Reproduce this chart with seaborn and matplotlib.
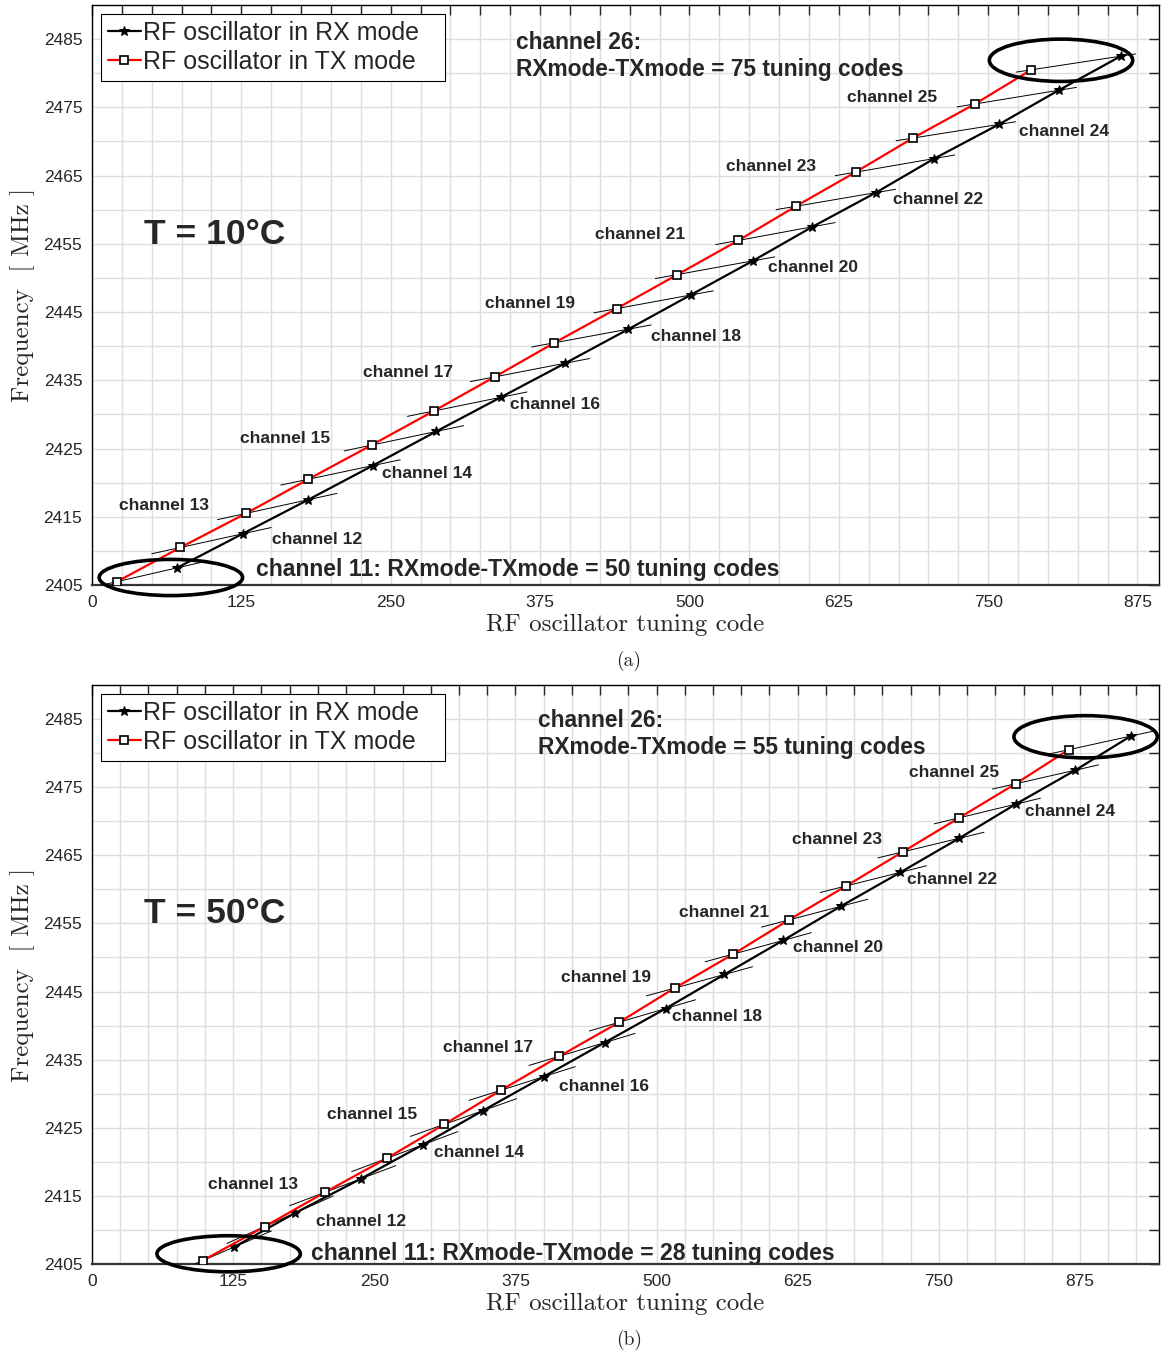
import numpy as np
import pandas as pd
import seaborn as sns
import matplotlib
matplotlib.use("Agg")
import matplotlib.pyplot as plt
from matplotlib.patches import Ellipse
from matplotlib.ticker import FixedLocator, MultipleLocator, NullFormatter

# ---------------- data ----------------
channels = list(range(11, 27))

tx_freq = [2405.5, 2410.5, 2415.5, 2420.5, 2425.5, 2430.5, 2435.5, 2440.5,
           2445.5, 2450.5, 2455.5, 2460.5, 2465.5, 2470.5, 2475.5, 2480.5]
rx_freq = [2407.5, 2412.5, 2417.5, 2422.5, 2427.5, 2432.5, 2437.5, 2442.5,
           2447.5, 2452.5, 2457.5, 2462.5, 2467.5, 2472.5, 2477.5, 2482.5]

tx_code_10C = [21, 74, 129, 181, 234, 286, 337, 387, 439, 490, 541, 589, 639, 687, 739, 786]
rx_code_10C = [71, 126, 181, 235, 288, 342, 396, 449, 501, 553, 603, 656, 705, 759, 809, 861]

tx_code_50C = [98, 153, 206, 261, 312, 362, 414, 467, 516, 568, 617, 668, 718, 768, 818, 865]
rx_code_50C = [126, 180, 238, 293, 346, 400, 454, 508, 560, 612, 663, 716, 768, 818, 871, 920]

x_tick_labels = [0, 125, 250, 375, 500, 625, 750, 875]
y_tick_labels = [2405, 2415, 2425, 2435, 2445, 2455, 2465, 2475, 2485]

# ---------------- style ----------------
sns.set_style("white")
plt.rcParams["font.family"] = ["Liberation Sans", "DejaVu Sans"]
plt.rcParams["axes.linewidth"] = 1.0

SERIF = ["cmr10", "DejaVu Serif"]

fig = plt.figure(figsize=(11.67, 13.51), dpi=100)
W, H = 1167, 1351
AX_LEFT, AX_RIGHT = 92, 1159


def make_axes(top_px, bottom_px):
    return fig.add_axes([AX_LEFT / W, 1 - bottom_px / H,
                         (AX_RIGHT - AX_LEFT) / W, (bottom_px - top_px) / H])


panels = [
    dict(top=5, bottom=585, tx=tx_code_10C, rx=rx_code_10C, xmax=893,
         temp="T = 10°C", tag="(a)", half=50,
         ell_low=(66, 2406.1, 120, 5.3), ell_high=(811, 2481.9, 120, 6.2),
         head=(355, 2484.5), foot=(137, 2407.3),
         labels={12: (151, 2411.7), 13: (23, 2416.7), 14: (243, 2421.3),
                 15: (124, 2426.5), 16: (350, 2431.4), 17: (227, 2436.2),
                 18: (468, 2441.4), 19: (329, 2446.2), 20: (566, 2451.5),
                 21: (421, 2456.3), 22: (670, 2461.5), 23: (531, 2466.3),
                 24: (776, 2471.5), 25: (632, 2476.5)}),
    dict(top=685, bottom=1264, tx=tx_code_50C, rx=rx_code_50C, xmax=945,
         temp="T = 50°C", tag="(b)", half=47,
         ell_low=(121, 2406.5, 127, 5.3), ell_high=(880, 2482.4, 127, 6.2),
         head=(395, 2484.8), foot=(194, 2406.6),
         labels={12: (198, 2411.2), 13: (103, 2416.6), 14: (303, 2421.3),
                 15: (208, 2426.9), 16: (414, 2431.0), 17: (311, 2436.8),
                 18: (514, 2441.4), 19: (415, 2447.1), 20: (621, 2451.5),
                 21: (520, 2456.6), 22: (722, 2461.5), 23: (620, 2467.3),
                 24: (826, 2471.5), 25: (724, 2477.2)}),
]

for p in panels:
    ax = make_axes(p["top"], p["bottom"])
    df = pd.DataFrame({"channel": channels,
                       "tx": p["tx"], "rx": p["rx"],
                       "tx_f": tx_freq, "rx_f": rx_freq})

    # per-channel line through the RX and TX operating points
    for _, r in df.iterrows():
        slope = (r.rx_f - r.tx_f) / (r.rx - r.tx)
        mx, my = (r.rx + r.tx) / 2, (r.rx_f + r.tx_f) / 2
        xs = np.array([mx - p["half"], mx + p["half"]])
        ax.plot(xs, my + slope * (xs - mx), color="black", lw=0.7, zorder=3)

    sns.lineplot(data=df, x="rx", y="rx_f", sort=False, ax=ax, color="black",
                 lw=1.6, marker="*", markersize=7.5, markeredgecolor="black",
                 markerfacecolor="black", label="RF oscillator in RX mode", zorder=4)
    sns.lineplot(data=df, x="tx", y="tx_f", sort=False, ax=ax, color="red",
                 lw=1.6, marker="s", markersize=5.5, markeredgecolor="black",
                 markeredgewidth=1.2, markerfacecolor="white",
                 label="RF oscillator in TX mode", zorder=5)

    ax.set_xlim(0, p["xmax"])
    ax.set_ylim(2405, 2490)
    ax.xaxis.set_major_locator(FixedLocator(x_tick_labels))
    ax.xaxis.set_minor_locator(MultipleLocator(25))
    ax.yaxis.set_major_locator(FixedLocator(y_tick_labels))
    ax.yaxis.set_minor_locator(MultipleLocator(5))
    ax.yaxis.set_minor_formatter(NullFormatter())
    ax.xaxis.set_minor_formatter(NullFormatter())
    ax.grid(True, which="both", color="#dedede", lw=1.0, zorder=0)
    ax.set_axisbelow(True)
    ax.tick_params(which="both", direction="in", top=True, right=True,
                   length=7, width=1.0, labelsize=12.5, pad=7)
    for s in ax.spines.values():
        s.set_color("black")
    ax.spines["bottom"].set_linewidth(1.6)
    ax.spines["bottom"].set_color("#333333")

    ax.set_xlabel("RF oscillator tuning code", fontfamily=SERIF, fontsize=18,
                  labelpad=3)
    ax.set_ylabel("Frequency  [ MHz ]", fontfamily=SERIF, fontsize=18,
                  labelpad=6)

    # legend box spans a fixed width in the upper-left corner
    ax_w = AX_RIGHT - AX_LEFT
    leg = ax.legend(loc="upper left",
                    bbox_to_anchor=(9 / ax_w, 0, (445 - 101) / ax_w, 0.985),
                    mode="expand", borderaxespad=0, fontsize=18, frameon=True,
                    fancybox=False, edgecolor="black", framealpha=1,
                    handlelength=1.3, handletextpad=0.1, borderpad=0.28,
                    labelspacing=0.22)
    leg.get_frame().set_linewidth(0.8)

    ax.text(0.049, 0.605, p["temp"], transform=ax.transAxes, fontsize=25.5,
            fontweight="bold", ha="left", va="center")

    for ch, (lx, ly) in p["labels"].items():
        ax.text(lx, ly, f"channel {ch}", fontsize=12.5, fontweight="bold",
                ha="left", va="center", zorder=6)

    d_hi = p["rx"][-1] - p["tx"][-1]
    d_lo = p["rx"][0] - p["tx"][0]
    hx, hy = p["head"]
    ax.text(hx, hy, "channel 26:", fontsize=16.4, fontweight="bold",
            ha="left", va="center", zorder=6)
    ax.text(hx, hy - 3.95, f"RXmode-TXmode = {d_hi} tuning codes", fontsize=16.4,
            fontweight="bold", ha="left", va="center", zorder=6)
    fx, fy = p["foot"]
    ax.text(fx, fy, f"channel 11: RXmode-TXmode = {d_lo} tuning codes",
            fontsize=16.6, fontweight="bold", ha="left", va="center", zorder=6)

    for (ex, ey, ew, eh) in (p["ell_low"], p["ell_high"]):
        ax.add_patch(Ellipse((ex, ey), ew, eh, fill=False, edgecolor="black",
                             lw=2.6, clip_on=False, zorder=7))

    fig.text(629 / W, 1 - (p["bottom"] + 76) / H, p["tag"], fontfamily=SERIF,
             fontsize=14, ha="center", va="center")

fig.savefig("out.png", dpi=100)
